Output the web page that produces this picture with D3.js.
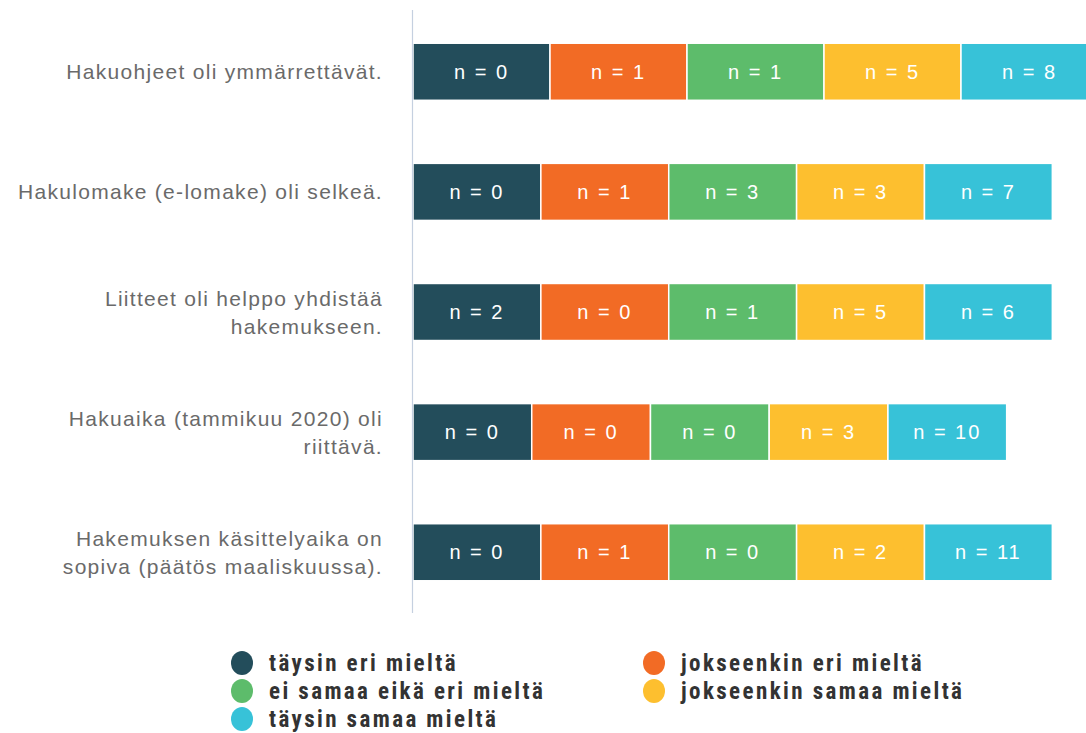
<!DOCTYPE html>
<html>
<head>
<meta charset="utf-8">
<script src="https://cdn.jsdelivr.net/npm/d3@7"></script>
<style>
  body { margin: 0; background: #fff; }
</style>
</head>
<body>
<script>
// Data
const questions = [
  ['Hakuohjeet oli ymmärrettävät.'],
  ['Hakulomake (e-lomake) oli selkeä.'],
  ['Liitteet oli helppo yhdistää', 'hakemukseen.'],
  ['Hakuaika (tammikuu 2020) oli', 'riittävä.'],
  ['Hakemuksen käsittelyaika on', 'sopiva (päätös maaliskuussa).']
];
const categories = [
  'täysin eri mieltä',
  'jokseenkin eri mieltä',
  'ei samaa eikä eri mieltä',
  'jokseenkin samaa mieltä',
  'täysin samaa mieltä'
];
const counts = [
  [0, 1, 1, 5, 8],
  [0, 1, 3, 3, 7],
  [2, 0, 1, 5, 6],
  [0, 0, 0, 3, 10],
  [0, 1, 0, 2, 11]
];
const colors = ['#234d5b', '#f26b25', '#5dbc6b', '#fdbf2f', '#37c2d8'];

const width = 1086, height = 733;

const svg = d3.select('body')
  .append('svg')
  .attr('width', width)
  .attr('height', height)
  .style('font-family', "'Liberation Sans', Arial, sans-serif");

// Scales
const x = d3.scaleLinear().domain([0, 15]).range([413, 1098]);
const y = d3.scaleBand()
  .domain(d3.range(questions.length))
  .range([12, 612])
  .paddingInner(0.525)
  .paddingOuter(0.26);

const color = d3.scaleOrdinal().domain(d3.range(5)).range(colors);

// Bars: each row spans its total, split into five equal parts
const rows = svg.append('g').selectAll('g')
  .data(counts)
  .join('g')
  .attr('transform', (d, i) => `translate(0,${y(i)})`);

const segs = rows.selectAll('g')
  .data(d => {
    const total = d3.sum(d);
    return d.map((v, j) => ({ v, j, x0: total * j / 5, x1: total * (j + 1) / 5 }));
  })
  .join('g');

segs.append('rect')
  .attr('x', d => x(d.x0))
  .attr('width', d => x(d.x1) - x(d.x0))
  .attr('height', y.bandwidth())
  .attr('fill', d => color(d.j))
  .attr('stroke', '#fff')
  .attr('stroke-width', 1.5);

segs.append('text')
  .attr('x', d => (x(d.x0) + x(d.x1)) / 2)
  .attr('y', y.bandwidth() / 2)
  .attr('dy', '0.36em')
  .attr('text-anchor', 'middle')
  .attr('fill', '#fff')
  .style('font-size', '20px')
  .style('letter-spacing', '2px')
  .text(d => `n = ${d.v}`);

// Axis line
svg.append('line')
  .attr('x1', 412.5).attr('x2', 412.5)
  .attr('y1', 10).attr('y2', 613)
  .attr('stroke', '#c5d0e0')
  .attr('stroke-width', 1.2);

// Category labels
const labels = svg.append('g').selectAll('text')
  .data(questions)
  .join('text')
  .attr('text-anchor', 'end')
  .attr('fill', '#6a6a6a')
  .style('font-size', '21px')
  .style('letter-spacing', '1.3px')
  .attr('transform', (d, i) => `translate(383,${y(i) + y.bandwidth() / 2})`);

labels.selectAll('tspan')
  .data(d => d.map((t, k) => ({ t, k, n: d.length })))
  .join('tspan')
  .attr('x', 0)
  .attr('y', d => (d.k - (d.n - 1) / 2) * 28)
  .attr('dy', '0.36em')
  .text(d => d.t);

// Legend
const legendPos = [[242, 663], [654, 663], [242, 691], [654, 691], [242, 719]];
const legend = svg.append('g').selectAll('g')
  .data(categories)
  .join('g')
  .attr('transform', (d, i) => `translate(${legendPos[i][0]},${legendPos[i][1]})`);

legend.append('ellipse')
  .attr('rx', 11).attr('ry', 12)
  .attr('fill', (d, i) => color(i));

legend.append('text')
  .attr('x', 27)
  .attr('dy', '0.36em')
  .attr('fill', '#333')
  .style('font-family', "'Liberation Sans Narrow', 'Roboto Condensed', sans-serif")
  .style('font-weight', 'bold')
  .style('font-size', '23px')
  .style('letter-spacing', '2.4px')
  .text(d => d);
</script>
</body>
</html>
